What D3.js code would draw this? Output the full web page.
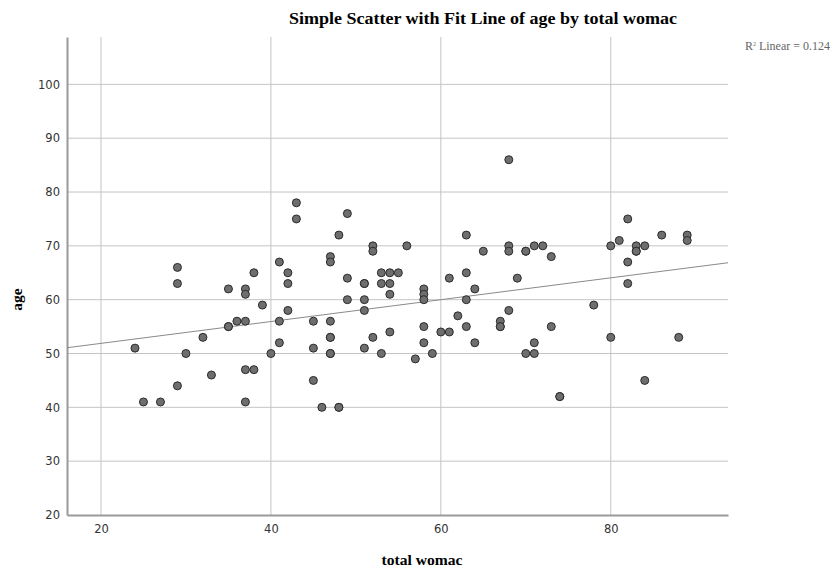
<!DOCTYPE html>
<html>
<head>
<meta charset="utf-8">
<script src="https://cdn.jsdelivr.net/npm/d3@7"></script>
<style>
  body { margin: 0; background: #fff; }
</style>
</head>
<body>
<div id="chart"></div>
<script>
// total womac (x) and age (y), one entry per subject
const womac = [24, 25, 27, 29, 29, 29, 30, 32, 33, 35, 35, 35, 36, 37, 37, 37, 37, 37, 38, 38, 39, 40,
  41, 41, 41, 42, 42, 42, 43, 43, 45, 45, 45, 46, 47, 47, 47, 47, 47, 47, 47, 48, 48, 48, 49, 49, 49,
  51, 51, 51, 51, 51, 52, 52, 52, 53, 53, 53, 54, 54, 54, 54, 55, 56, 57, 58, 58, 58, 58, 58, 59, 60,
  61, 61, 62, 63, 63, 63, 63, 64, 64, 65, 67, 67, 67, 68, 68, 68, 68, 69, 70, 70, 70, 71, 71, 71, 72,
  73, 73, 74, 74, 78, 80, 80, 81, 82, 82, 82, 83, 83, 83, 84, 84, 86, 88, 89, 89];
const age = [51, 41, 41, 66, 63, 44, 50, 53, 46, 62, 55, 55, 56, 62, 61, 56, 47, 41, 65, 47, 59, 50,
  67, 56, 52, 65, 63, 58, 78, 75, 56, 51, 45, 40, 68, 67, 56, 53, 53, 50, 50, 72, 40, 40, 76, 64, 60,
  63, 63, 60, 58, 51, 70, 69, 53, 65, 63, 50, 65, 63, 61, 54, 65, 70, 49, 62, 61, 60, 55, 52, 50, 54,
  64, 54, 57, 72, 65, 60, 55, 62, 52, 69, 56, 55, 55, 86, 70, 69, 58, 64, 69, 69, 50, 70, 52, 50, 70,
  68, 55, 42, 42, 59, 70, 53, 71, 75, 67, 63, 70, 69, 69, 70, 45, 72, 53, 72, 71];
const xTicks = [20, 40, 60, 80];
const yTicks = [20, 30, 40, 50, 60, 70, 80, 90, 100];
const rSquaredLabel = "0.124";

const width = 834, height = 572;
const margin = {top: 37, right: 106, bottom: 57, left: 67};

const svg = d3.select("#chart").append("svg")
    .attr("width", width)
    .attr("height", height);

const x = d3.scaleLinear().domain([16, 93.8]).range([margin.left, width - margin.right]);
const y = d3.scaleLinear().domain([20, 108.8]).range([height - margin.bottom, margin.top]);

// grid lines
svg.append("g")
    .selectAll("line")
    .data(xTicks)
    .enter().append("line")
    .attr("x1", d => x(d)).attr("x2", d => x(d))
    .attr("y1", margin.top).attr("y2", height - margin.bottom)
    .style("stroke", "#c4c4c4")
    .style("stroke-width", 1);

svg.append("g")
    .selectAll("line")
    .data(yTicks.slice(1))
    .enter().append("line")
    .attr("x1", margin.left).attr("x2", width - margin.right)
    .attr("y1", d => y(d)).attr("y2", d => y(d))
    .style("stroke", "#c4c4c4")
    .style("stroke-width", 1);

// axes
const xAxis = svg.append("g")
    .attr("transform", "translate(0," + (height - margin.bottom) + ")")
    .call(d3.axisBottom(x).tickValues(xTicks).tickSize(0).tickPadding(10));
const yAxis = svg.append("g")
    .attr("transform", "translate(" + margin.left + ",0)")
    .call(d3.axisLeft(y).tickValues(yTicks).tickSize(0).tickPadding(7));

[xAxis, yAxis].forEach(a => {
    a.select(".domain").style("stroke", "#9a9a9a").style("stroke-width", 2);
    a.selectAll("text")
        .style("font-family", "'DejaVu Sans', sans-serif")
        .style("font-size", "11.5px")
        .style("fill", "#333");
});

// least squares fit line
const mx = d3.mean(womac), my = d3.mean(age);
const slope = d3.sum(womac, (d, i) => (d - mx) * (age[i] - my)) / d3.sum(womac, d => (d - mx) * (d - mx));
const intercept = my - slope * mx;
const xd = x.domain();

svg.append("line")
    .attr("x1", x(xd[0])).attr("y1", y(intercept + slope * xd[0]))
    .attr("x2", x(xd[1])).attr("y2", y(intercept + slope * xd[1]))
    .style("stroke", "#8a8a8a")
    .style("stroke-width", 1);

// points
svg.append("g")
    .selectAll("circle")
    .data(womac.map((d, i) => ({w: d, a: age[i]})))
    .enter().append("circle")
    .attr("cx", d => x(d.w))
    .attr("cy", d => y(d.a))
    .attr("r", 4)
    .style("fill", "#6e6e6e")
    .style("stroke", "#2b2b2b")
    .style("stroke-width", 1);

// titles
svg.append("text")
    .attr("x", 483).attr("y", 24)
    .attr("text-anchor", "middle")
    .attr("textLength", 388)
    .attr("lengthAdjust", "spacingAndGlyphs")
    .style("font-family", "'Liberation Serif', serif")
    .style("font-weight", "bold")
    .style("font-size", "16px")
    .text("Simple Scatter with Fit Line of age by total womac");

svg.append("text")
    .attr("x", 422).attr("y", 565)
    .attr("text-anchor", "middle")
    .attr("textLength", 81)
    .attr("lengthAdjust", "spacingAndGlyphs")
    .style("font-family", "'Liberation Serif', serif")
    .style("font-weight", "bold")
    .style("font-size", "15.5px")
    .text("total womac");

svg.append("text")
    .attr("transform", "translate(22," + y(60) + ") rotate(-90)")
    .attr("text-anchor", "middle")
    .style("font-family", "'Liberation Serif', serif")
    .style("font-weight", "bold")
    .style("font-size", "15.5px")
    .text("age");

const r2 = svg.append("text")
    .attr("x", 830).attr("y", 50)
    .attr("text-anchor", "end")
    .style("font-family", "'Liberation Serif', serif")
    .style("font-size", "12px")
    .style("fill", "#666");
r2.append("tspan").text("R");
r2.append("tspan").attr("dy", -4).style("font-size", "6px").text("2");
r2.append("tspan").attr("dy", 4).text(" Linear = " + rSquaredLabel);
</script>
</body>
</html>
